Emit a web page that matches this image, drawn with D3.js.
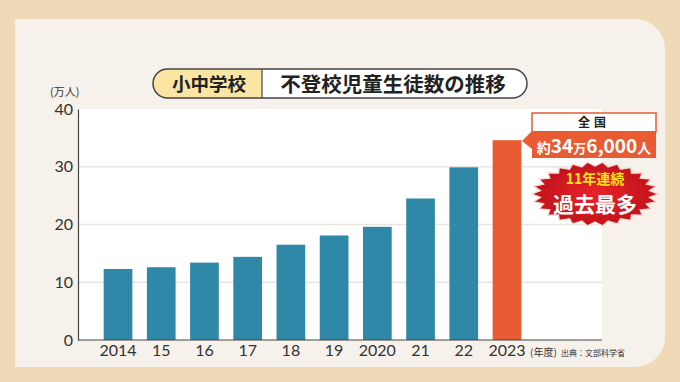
<!DOCTYPE html>
<html>
<head>
  <meta charset="utf-8">
  <script src="https://d3js.org/d3.v7.min.js"></script>
  <style>
    body { margin: 0; background: #efd9b6; }
    svg { display: block; }
    text { font-family: "Noto Sans CJK JP", "Noto Sans", sans-serif; }
  </style>
</head>
<body>
  <svg id="chart" width="680" height="382"></svg>

  <script>
    // Data for the chart (万人)
    const years = ['2014', '2015', '2016', '2017', '2018', '2019', '2020', '2021', '2022', '2023'];
    const yearLabels = ['2014', '15', '16', '17', '18', '19', '2020', '21', '22', '2023'];
    const values = [12.3, 12.6, 13.4, 14.4, 16.5, 18.1, 19.6, 24.5, 29.9, 34.6];
    const yTicks = [0, 10, 20, 30, 40];

    const data = years.map((y, i) => ({ year: y, label: yearLabels[i], value: values[i] }));

    const svg = d3.select('#chart');

    // Background panel
    const panel = d3.path();
    panel.moveTo(15, 19);
    panel.lineTo(635, 19);
    panel.arcTo(665, 19, 665, 49, 30);
    panel.lineTo(665, 337);
    panel.arcTo(665, 367, 635, 367, 30);
    panel.lineTo(15, 367);
    panel.closePath();
    svg.append('path').attr('d', panel.toString()).attr('fill', '#f6f1ea');

    // Scales
    const x = d3.scaleBand()
      .domain(years)
      .range([78, 547])
      .paddingInner(0.336)
      .paddingOuter(0.594);

    const y = d3.scaleLinear()
      .domain([0, 40])
      .range([340, 109]);

    // Plot area
    svg.append('rect')
      .attr('x', 78).attr('y', y(40))
      .attr('width', 602 - 78).attr('height', y(0) - y(40))
      .attr('fill', '#ffffff');

    // Gridlines
    svg.selectAll('line.grid')
      .data(yTicks.filter(d => d > 0 && d < 40))
      .join('line')
      .attr('class', 'grid')
      .attr('x1', 78).attr('x2', 602)
      .attr('y1', d => y(d)).attr('y2', d => y(d))
      .attr('stroke', '#e9e6e2')
      .attr('stroke-width', 1.5);

    // Bars
    svg.selectAll('rect.bar')
      .data(data)
      .join('rect')
      .attr('class', 'bar')
      .attr('x', d => x(d.year))
      .attr('y', d => y(d.value))
      .attr('width', x.bandwidth())
      .attr('height', d => y(0) - y(d.value))
      .attr('fill', (d, i) => i === data.length - 1 ? '#e85b33' : '#2f88a8');

    // Axes
    const yAxis = svg.append('g')
      .attr('transform', 'translate(78,0)')
      .call(d3.axisLeft(y).tickValues(yTicks).tickSize(0).tickPadding(5));
    yAxis.select('.domain').attr('stroke', '#444').attr('stroke-width', 1.2);
    yAxis.selectAll('text')
      .attr('font-size', 16).attr('fill', '#333')
      .style('font-family', 'Lato, "Noto Sans", sans-serif');

    const xAxis = svg.append('g')
      .attr('transform', `translate(0,${y(0)})`)
      .call(d3.axisBottom(x).tickSize(0).tickPadding(5).tickFormat((d, i) => yearLabels[i]));
    xAxis.select('.domain').attr('d', 'M78,0H602').attr('stroke', '#444').attr('stroke-width', 1.2);
    xAxis.selectAll('text')
      .attr('font-size', 16).attr('fill', '#333')
      .style('font-family', 'Lato, "Noto Sans", sans-serif');

    // Unit labels
    svg.append('text').attr('x', 50).attr('y', 96)
      .attr('font-size', 11).attr('fill', '#333').text('(万人)');
    svg.append('text').attr('x', 530).attr('y', 356)
      .attr('font-size', 10).attr('fill', '#333').text('(年度)');
    svg.append('text').attr('x', 561).attr('y', 356)
      .attr('font-size', 8).attr('fill', '#333').text('出典：文部科学省');

    // Title pill
    const title = svg.append('g');
    title.append('rect')
      .attr('x', 153).attr('y', 69).attr('width', 374).attr('height', 29)
      .attr('rx', 14.5).attr('fill', '#ffffff');
    const leftClip = svg.append('clipPath').attr('id', 'pillClip');
    leftClip.append('rect').attr('x', 153).attr('y', 69).attr('width', 374).attr('height', 29).attr('rx', 14.5);
    title.append('rect')
      .attr('x', 153).attr('y', 69).attr('width', 109).attr('height', 29)
      .attr('fill', '#fbe5a5').attr('clip-path', 'url(#pillClip)');
    title.append('line')
      .attr('x1', 262).attr('x2', 262).attr('y1', 69).attr('y2', 98)
      .attr('stroke', '#444').attr('stroke-width', 1.2);
    title.append('rect')
      .attr('x', 153).attr('y', 69).attr('width', 374).attr('height', 29)
      .attr('rx', 14.5).attr('fill', 'none').attr('stroke', '#444').attr('stroke-width', 1.5);
    title.append('text').attr('x', 209).attr('y', 91)
      .attr('text-anchor', 'middle').attr('font-size', 18.5).attr('font-weight', 700)
      .attr('fill', '#222').text('小中学校');
    title.append('text').attr('x', 393).attr('y', 91.5)
      .attr('text-anchor', 'middle').attr('font-size', 20.5).attr('font-weight', 700)
      .attr('fill', '#222').text('不登校児童生徒数の推移');

    // Callout for latest value
    const last = data[data.length - 1];
    const call = svg.append('g');
    call.append('path')
      .attr('d', `M532,131 L522,141 L532,149 Z`)
      .attr('fill', '#e85b33');
    call.append('rect')
      .attr('x', 532).attr('y', 113).attr('width', 124).attr('height', 19)
      .attr('fill', '#ffffff').attr('stroke', '#e85b33').attr('stroke-width', 1.5);
    call.append('rect')
      .attr('x', 532).attr('y', 131).attr('width', 124).attr('height', 27)
      .attr('fill', '#e85b33');
    call.append('text').attr('x', 594).attr('y', 127)
      .attr('text-anchor', 'middle').attr('font-size', 12).attr('font-weight', 700)
      .attr('fill', '#222').attr('letter-spacing', 4).text('全国');
    const val = call.append('text').attr('x', 594).attr('y', 153)
      .attr('text-anchor', 'middle').attr('fill', '#fff').attr('font-weight', 700);
    const man = Math.floor(last.value);
    const rest = d3.format(',')(Math.round((last.value - man) * 10000));
    val.append('tspan').attr('font-size', 14).text('約');
    val.append('tspan').attr('font-size', 19).text(man);
    val.append('tspan').attr('font-size', 13).text('万');
    val.append('tspan').attr('font-size', 19).text(rest);
    val.append('tspan').attr('font-size', 14).text('人');

    // Starburst badge
    const cx = 595, cy = 194, nPts = 52;
    const burst = d3.range(nPts).map(i => {
      const a = (i / nPts) * 2 * Math.PI;
      const k = i % 2 === 0 ? 1 : 0.87;
      return [cx + Math.cos(a) * 63 * k, cy + Math.sin(a) * 32 * k];
    });
    const defs = svg.append('defs');
    const grad = defs.append('radialGradient').attr('id', 'burstGrad');
    grad.append('stop').attr('offset', '0%').attr('stop-color', '#e8232a');
    grad.append('stop').attr('offset', '100%').attr('stop-color', '#c1121a');
    svg.append('path')
      .attr('d', d3.line().curve(d3.curveLinearClosed)(burst))
      .attr('fill', 'url(#burstGrad)')
      .attr('stroke', '#f6d8d0').attr('stroke-width', 1.2);
    svg.append('text').attr('x', cx).attr('y', 184)
      .attr('text-anchor', 'middle').attr('font-size', 14).attr('font-weight', 700)
      .attr('fill', '#ffe610').text('11年連続');
    svg.append('text').attr('x', cx).attr('y', 212)
      .attr('text-anchor', 'middle').attr('font-size', 21).attr('font-weight', 700)
      .attr('fill', '#ffffff').text('過去最多');
  </script>
</body>
</html>
